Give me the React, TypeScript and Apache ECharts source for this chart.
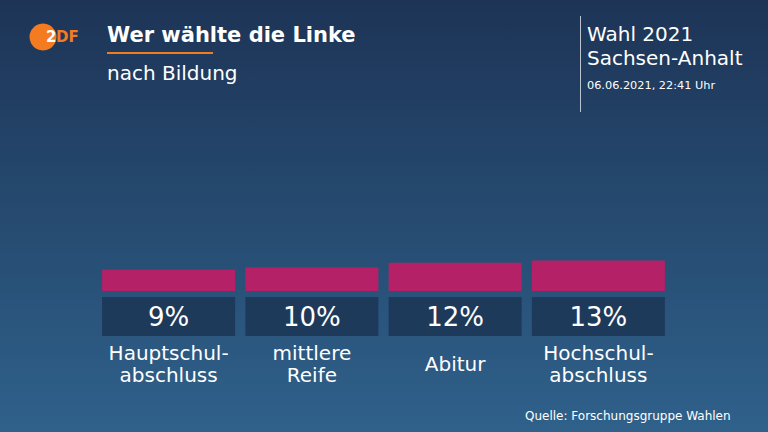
import React, { useEffect, useRef } from "react";
import * as echarts from "echarts";

const categories = ["Hauptschul-\nabschluss", "mittlere\nReife", "Abitur", "Hochschul-\nabschluss"];
const values = [9, 10, 12, 13];
const FONT = "DejaVu Sans";

export default function App() {
  const ref = useRef<HTMLDivElement>(null);
  useEffect(() => {
    if (!ref.current) return;
    const chart = echarts.init(ref.current, undefined, { renderer: "svg" });
    chart.setOption({
      animation: false,
      backgroundColor: {
        type: "linear", x: 0, y: 0, x2: 0, y2: 1,
        colorStops: [
          { offset: 0, color: "#1d3456" },
          { offset: 1, color: "#2f618b" },
        ],
      },
      grid: { left: 97, right: 98, top: 56, bottom: 141 },
      xAxis: {
        type: "category",
        data: categories,
        axisLine: { show: false },
        axisTick: { show: false },
        axisLabel: {
          margin: 51,
          interval: 0,
          formatter: (v: string) => {
            const lines = v.split("\n");
            if (lines.length === 1) return `{one|${v}}`;
            return lines.map((l) => `{two|${l}}`).join("\n");
          },
          rich: {
            one: { color: "#ffffff", fontSize: 20, fontFamily: FONT, lineHeight: 44, align: "center" },
            two: { color: "#ffffff", fontSize: 20, fontFamily: FONT, lineHeight: 22, align: "center" },
          },
        },
      },
      yAxis: { type: "value", min: 0, max: 100, show: false },
      series: [
        {
          type: "bar",
          data: values,
          barWidth: 133,
          itemStyle: { color: "#b52166" },
          label: {
            show: true,
            position: "bottom",
            distance: 6,
            formatter: "{v|{c}%}",
            rich: {
              v: {
                width: 133, height: 39, lineHeight: 39, align: "center",
                backgroundColor: "#1e3a5b", color: "#ffffff",
                fontSize: 26, fontFamily: FONT,
              },
            },
          },
        },
      ],
      graphic: [
        { type: "circle", shape: { cx: 43, cy: 37, r: 13.5 }, style: { fill: "#f47b20" } },
        { type: "text", x: 46, y: 37, style: { text: "2", fill: "#ffffff", font: `bold 15px ${FONT}`, verticalAlign: "middle" } },
        { type: "text", x: 56, y: 37, style: { text: "DF", fill: "#f47b20", font: `bold 15px ${FONT}`, verticalAlign: "middle" } },
        { type: "text", x: 107, y: 35, style: { text: "Wer wählte die Linke", fill: "#ffffff", font: `bold 21px ${FONT}`, verticalAlign: "middle" } },
        { type: "rect", shape: { x: 107, y: 52, width: 106, height: 2 }, style: { fill: "#f47b20" } },
        { type: "text", x: 107, y: 73, style: { text: "nach Bildung", fill: "#ffffff", font: `20px ${FONT}`, verticalAlign: "middle" } },
        { type: "rect", shape: { x: 580, y: 16, width: 1, height: 96 }, style: { fill: "#b8c4d0" } },
        { type: "text", x: 587, y: 34, style: { text: "Wahl 2021", fill: "#ffffff", font: `20px ${FONT}`, verticalAlign: "middle" } },
        { type: "text", x: 587, y: 58, style: { text: "Sachsen-Anhalt", fill: "#ffffff", font: `20px ${FONT}`, verticalAlign: "middle" } },
        { type: "text", x: 587, y: 85, style: { text: "06.06.2021, 22:41 Uhr", fill: "#ffffff", font: `11.3px ${FONT}`, verticalAlign: "middle" } },
        { type: "text", x: 525, y: 416, style: { text: "Quelle: Forschungsgruppe Wahlen", fill: "#ffffff", font: `12px ${FONT}`, verticalAlign: "middle" } },
      ],
    });
    return () => chart.dispose();
  }, []);
  return <div ref={ref} style={{ position: "fixed", left: 0, top: 0, width: 768, height: 432 }} />;
}
